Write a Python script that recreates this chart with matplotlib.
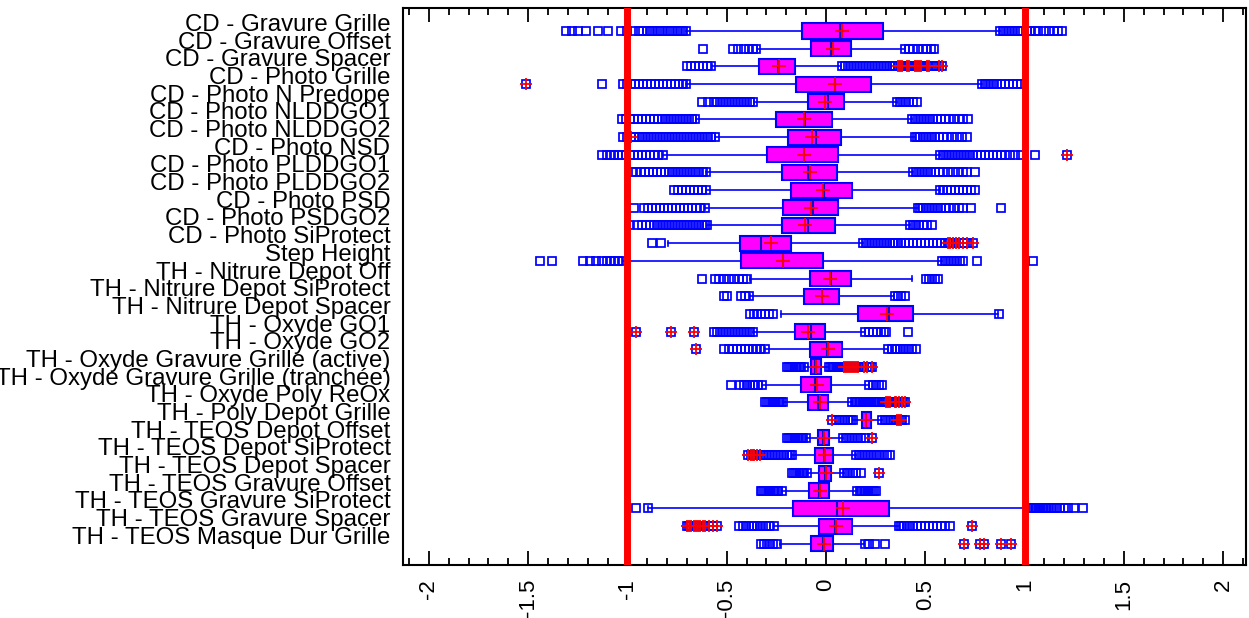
import matplotlib
matplotlib.use("Agg")
import matplotlib.pyplot as plt
import numpy as np
from matplotlib.ticker import MultipleLocator, FixedLocator

plt.rcParams['font.family'] = ['Liberation Sans', 'DejaVu Sans']

categories = [
    "CD - Gravure Grille", "CD - Gravure Offset", "CD - Gravure Spacer",
    "CD - Photo Grille", "CD - Photo N Predope", "CD - Photo NLDDGO1",
    "CD - Photo NLDDGO2", "CD - Photo NSD", "CD - Photo PLDDGO1",
    "CD - Photo PLDDGO2", "CD - Photo PSD", "CD - Photo PSDGO2",
    "CD - Photo SiProtect", "Step Height", "TH - Nitrure Depot Off",
    "TH - Nitrure Depot SiProtect", "TH - Nitrure Depot Spacer",
    "TH - Oxyde GO1", "TH - Oxyde GO2", "TH - Oxyde Gravure Grille (active)",
    "TH - Oxyde Gravure Grille (tranchée)", "TH - Oxyde Poly ReOx",
    "TH - Poly Depot Grille", "TH - TEOS Depot Offset",
    "TH - TEOS Depot SiProtect", "TH - TEOS Depot Spacer",
    "TH - TEOS Gravure Offset", "TH - TEOS Gravure SiProtect",
    "TH - TEOS Gravure Spacer", "TH - TEOS Masque Dur Grille",
]

q1 = [-0.12, -0.073, -0.338, -0.151, -0.093, -0.253, -0.189, -0.296, -0.222, -0.174,
      -0.215, -0.222, -0.435, -0.427, -0.083, -0.112, 0.162, -0.157, -0.079, -0.073,
      -0.126, -0.093, 0.182, -0.041, -0.054, -0.035, -0.087, -0.166, -0.035, -0.073]
median = [0.073, 0.023, -0.244, 0.046, 0.008, -0.106, -0.048, -0.112, -0.093, -0.01,
          -0.064, -0.093, -0.325, -0.215, 0.023, -0.021, 0.317, -0.073, 0.004, -0.054,
          -0.054, -0.041, 0.203, -0.015, -0.012, -0.006, -0.035, 0.056, 0.043, -0.015]
q3 = [0.288, 0.126, -0.157, 0.226, 0.093, 0.029, 0.075, 0.062, 0.056, 0.133,
      0.062, 0.043, -0.176, -0.015, 0.124, 0.068, 0.439, -0.006, 0.081, -0.025,
      0.023, 0.01, 0.226, 0.015, 0.037, 0.023, 0.015, 0.317, 0.133, 0.037]
mean = [0.081, 0.033, -0.238, 0.043, -0.004, -0.112, -0.068, -0.112, -0.083, -0.015,
        -0.077, -0.106, -0.276, -0.218, 0.019, -0.019, 0.307, -0.093, 0.008, -0.05,
        -0.044, -0.031, 0.203, -0.01, -0.006, -0.002, -0.031, 0.087, 0.052, -0.012]
whisker_low = [-0.705, -0.348, -0.576, -0.705, -0.36, -0.657, -0.56, -0.823, -0.605, -0.605,
               -0.61, -0.60, -0.798, -1.02, -0.383, -0.383, -0.228, -0.367, -0.309, -0.112,
               -0.321, -0.215, 0.135, -0.102, -0.17, -0.097, -0.224, -0.895, -0.263, -0.234]
whisker_high = [0.874, 0.40, 0.077, 0.787, 0.36, 0.433, 0.448, 0.574, 0.439, 0.574,
                0.462, 0.425, 0.187, 0.584, 0.433, 0.342, 0.864, 0.197, 0.313, 0.015,
                0.216, 0.133, 0.28, 0.087, 0.153, 0.091, 0.158, 1.019, 0.367, 0.191]

outliers = [
    [-1.31, -1.28, -1.25, -1.21, -1.15, -1.10, -1.03, -1.00, -0.97, -0.94, -0.92, -0.90,
     -0.885, -0.87, -0.85, -0.835, -0.82, -0.80, -0.785, -0.77, -0.75, -0.735, -0.72, -0.705,
     0.875, 0.89, 0.905, 0.92, 0.935, 0.95, 0.965, 0.98, 1.01, 1.03, 1.05, 1.07, 1.10,
     1.125, 1.15, 1.17, 1.19],
    [-0.62, -0.47, -0.445, -0.415, -0.39, -0.37, -0.35,
     0.40, 0.42, 0.44, 0.465, 0.49, 0.51, 0.53, 0.545],
    [-0.70, -0.68, -0.66, -0.64, -0.62, -0.60, -0.58,
     0.08, 0.095, 0.11, 0.125, 0.14, 0.155, 0.17, 0.185, 0.20, 0.215, 0.23, 0.245, 0.26,
     0.275, 0.29, 0.305, 0.32, 0.335, 0.35, 0.365, 0.38, 0.40, 0.43, 0.44, 0.49, 0.50,
     0.54, 0.555],
    [-1.13, -1.02, -1.00, -0.98, -0.96, -0.94, -0.92, -0.90, -0.88, -0.86, -0.84, -0.82,
     -0.80, -0.78, -0.76, -0.74, -0.72, -0.705,
     0.787, 0.80, 0.815, 0.83, 0.845, 0.86, 0.88, 0.90, 0.92, 0.94, 0.96, 0.98],
    [-0.624, -0.595, -0.566, -0.55, -0.535, -0.52, -0.505, -0.49, -0.475, -0.46, -0.445,
     -0.43, -0.415, -0.40, -0.385, -0.37,
     0.36, 0.375, 0.39, 0.405, 0.42, 0.44, 0.458],
    [-1.025, -1.005, -0.985, -0.965, -0.945, -0.925, -0.905, -0.885, -0.865, -0.845,
     -0.825, -0.81, -0.795, -0.78, -0.765, -0.75, -0.735, -0.72, -0.705, -0.69, -0.675, -0.66,
     0.433, 0.45, 0.465, 0.48, 0.495, 0.51, 0.525, 0.54, 0.56, 0.58, 0.60, 0.62, 0.645,
     0.67, 0.69, 0.715],
    [-1.02, -1.00, -0.96, -0.94, -0.925, -0.91, -0.895, -0.88, -0.865, -0.85, -0.835,
     -0.82, -0.805, -0.79, -0.775, -0.76, -0.745, -0.73, -0.715, -0.70, -0.685, -0.67,
     -0.655, -0.64, -0.625, -0.61, -0.595, -0.58, -0.56,
     0.448, 0.46, 0.475, 0.49, 0.505, 0.52, 0.535, 0.55, 0.57, 0.59, 0.61, 0.635, 0.66,
     0.685, 0.709],
    [-1.127, -1.105, -1.085, -1.065, -1.045, -1.025, -1.005, -0.985, -0.965, -0.945,
     -0.925, -0.905, -0.885, -0.865, -0.845, -0.823,
     0.574, 0.59, 0.605, 0.62, 0.635, 0.65, 0.665, 0.68, 0.695, 0.71, 0.725, 0.74, 0.76,
     0.78, 0.80, 0.82, 0.84, 0.86, 0.88, 0.90, 0.925, 0.95, 0.98, 1.053],
    [-0.978, -0.955, -0.93, -0.91, -0.89, -0.87, -0.85, -0.83, -0.81, -0.79, -0.775,
     -0.76, -0.745, -0.73, -0.715, -0.70, -0.685, -0.67, -0.655, -0.64, -0.62, -0.605,
     0.439, 0.455, 0.47, 0.485, 0.50, 0.515, 0.53, 0.55, 0.57, 0.59, 0.615, 0.64, 0.665,
     0.69, 0.709, 0.752],
    [-0.765, -0.745, -0.725, -0.705, -0.685, -0.665, -0.645, -0.625, -0.605,
     0.574, 0.59, 0.61, 0.63, 0.65, 0.67, 0.69, 0.71, 0.73, 0.748],
    [-0.968, -0.914, -0.895, -0.875, -0.855, -0.835, -0.815, -0.795, -0.775, -0.755,
     -0.735, -0.715, -0.695, -0.675, -0.655, -0.635, -0.61,
     0.462, 0.475, 0.49, 0.505, 0.52, 0.535, 0.55, 0.565, 0.58, 0.60, 0.62, 0.645, 0.67,
     0.69, 0.729, 0.883],
    [-0.99, -0.947, -0.925, -0.905, -0.885, -0.865, -0.85, -0.835, -0.82, -0.805, -0.79,
     -0.775, -0.76, -0.745, -0.73, -0.715, -0.70, -0.685, -0.67, -0.655, -0.64, -0.625,
     -0.61, -0.60,
     0.425, 0.44, 0.455, 0.47, 0.49, 0.51, 0.535],
    [-0.875, -0.83,
     0.187, 0.20, 0.215, 0.23, 0.245, 0.26, 0.275, 0.29, 0.305, 0.32, 0.335, 0.35, 0.365,
     0.38, 0.40, 0.42, 0.44, 0.46, 0.48, 0.50, 0.52, 0.54, 0.56, 0.58, 0.60],
    [-1.442, -1.382, -1.223, -1.19, -1.16, -1.13, -1.105, -1.085, -1.065, -1.045, -1.02,
     0.584, 0.60, 0.615, 0.63, 0.645, 0.66, 0.675, 0.69, 0.758, 1.042],
    [-0.624, -0.56, -0.54, -0.515, -0.49, -0.465, -0.44, -0.42, -0.40,
     0.506, 0.52, 0.535, 0.55, 0.564],
    [-0.516, -0.497, -0.43, -0.41, -0.39,
     0.35, 0.365, 0.38, 0.40],
    [-0.383, -0.365, -0.345, -0.325, -0.305, -0.285, -0.265,
     0.87],
    [-0.566, -0.55, -0.535, -0.52, -0.505, -0.49, -0.475, -0.46, -0.445, -0.43, -0.415,
     -0.40, -0.385, -0.367,
     0.197, 0.215, 0.235, 0.255, 0.275, 0.29, 0.303, 0.414],
    [-0.514, -0.49, -0.47, -0.45, -0.43, -0.41, -0.39, -0.37, -0.35, -0.33, -0.309,
     0.313, 0.33, 0.345, 0.36, 0.375, 0.39, 0.405, 0.42, 0.435, 0.452],
    [-0.195, -0.185, -0.175, -0.165, -0.155, -0.145, -0.135, -0.125, -0.112,
     0.015, 0.025, 0.035, 0.045, 0.055, 0.065, 0.075, 0.085, 0.18, 0.22],
    [-0.479, -0.431, -0.415, -0.40, -0.385, -0.37, -0.355, -0.34, -0.321,
     0.216, 0.235, 0.25, 0.265, 0.28],
    [-0.305, -0.295, -0.285, -0.275, -0.265, -0.255, -0.245, -0.235, -0.225, -0.215,
     0.133, 0.145, 0.155, 0.165, 0.175, 0.185, 0.195, 0.205, 0.215, 0.225, 0.235, 0.245,
     0.255, 0.265, 0.28, 0.294, 0.335, 0.36, 0.39],
    [0.052, 0.065, 0.08, 0.095, 0.11, 0.125, 0.135,
     0.28, 0.295, 0.31, 0.325, 0.34, 0.355, 0.385, 0.40],
    [-0.195, -0.185, -0.175, -0.165, -0.155, -0.145, -0.135, -0.125, -0.115, -0.102,
     0.087, 0.10, 0.115, 0.13, 0.145, 0.16, 0.175, 0.197],
    [-0.315, -0.30, -0.285, -0.27, -0.255, -0.24, -0.225, -0.21, -0.195, -0.18, -0.17,
     0.153, 0.165, 0.18, 0.195, 0.21, 0.225, 0.24, 0.255, 0.27, 0.29, 0.305, 0.323],
    [-0.17, -0.16, -0.15, -0.14, -0.13, -0.12, -0.11, -0.097,
     0.091, 0.105, 0.12, 0.135, 0.15, 0.174],
    [-0.329, -0.32, -0.31, -0.30, -0.29, -0.28, -0.27, -0.26, -0.25, -0.24, -0.224,
     0.158, 0.17, 0.18, 0.19, 0.20, 0.21, 0.22, 0.23, 0.24, 0.251],
    [-0.959, -0.895,
     1.019, 1.03, 1.04, 1.05, 1.06, 1.07, 1.08, 1.09, 1.10, 1.11, 1.12, 1.135, 1.15,
     1.165, 1.18, 1.20, 1.22, 1.25, 1.293],
    [-0.437, -0.42, -0.405, -0.39, -0.375, -0.36, -0.345, -0.33, -0.315, -0.30, -0.285,
     -0.263,
     0.367, 0.38, 0.395, 0.41, 0.425, 0.44, 0.46, 0.48, 0.50, 0.52, 0.54, 0.56, 0.58,
     0.60, 0.622],
    [-0.325, -0.31, -0.295, -0.28, -0.265, -0.247,
     0.195, 0.215, 0.245, 0.295],
]

extremes = [
    [], [],
    [0.365, 0.375, 0.385, 0.41, 0.42, 0.45, 0.46, 0.47, 0.48, 0.51, 0.52, 0.57, 0.585],
    [-1.51], [], [], [-0.98], [1.216], [], [], [], [],
    [0.613, 0.625, 0.64, 0.655, 0.67, 0.69, 0.71, 0.738],
    [], [], [], [],
    [-0.959, -0.779, -0.663],
    [-0.653],
    [0.09, 0.10, 0.11, 0.12, 0.13, 0.14, 0.15, 0.16, 0.19, 0.205, 0.23],
    [],
    [0.30, 0.31, 0.32, 0.345, 0.355, 0.37, 0.385, 0.40],
    [0.029, 0.36, 0.37, 0.38],
    [0.232],
    [-0.392, -0.38, -0.37, -0.36, -0.345, -0.33],
    [0.265], [], [],
    [-0.70, -0.69, -0.68, -0.665, -0.655, -0.645, -0.635, -0.62, -0.61, -0.59, -0.57,
     -0.547, 0.734],
    [0.694, 0.777, 0.797, 0.879, 0.932],
]

limit_lines = [-1, 1]
xtick_values = [-2, -1.5, -1, -0.5, 0, 0.5, 1, 1.5, 2]
xtick_labels = ["-2", "-1.5", "-1", "-0.5", "0", "0.5", "1", "1.5", "2"]

BLUE = "#0000FF"
MAG = "#FF00FF"
RED = "#FF0000"

fig = plt.figure(figsize=(12.49, 6.18), dpi=100)
ax = fig.add_axes([403 / 1249, 53 / 618, (1246 - 403) / 1249, (565 - 8) / 618])

positions = np.arange(len(categories))
stats = []
for i in range(len(categories)):
    stats.append(dict(med=median[i], q1=q1[i], q3=q3[i], whislo=whisker_low[i],
                      whishi=whisker_high[i], mean=mean[i], fliers=outliers[i] + extremes[i]))

ax.bxp(stats, positions=positions, orientation='horizontal', widths=0.85,
       capwidths=0.3, patch_artist=True, showmeans=True, showfliers=True,
       boxprops=dict(facecolor=MAG, edgecolor=BLUE, linewidth=1.5),
       medianprops=dict(color="#1010C0", linewidth=1.5),
       whiskerprops=dict(color=BLUE, linewidth=1.2),
       capprops=dict(color=BLUE, linewidth=1.2),
       meanprops=dict(marker='+', markeredgecolor=RED, markersize=10, markeredgewidth=1.3),
       flierprops=dict(marker='s', markerfacecolor='none', markeredgecolor=BLUE,
                       markersize=6.3, markeredgewidth=1.25, linestyle='none'))

for i, ex in enumerate(extremes):
    if ex:
        ax.plot(ex, [i] * len(ex), linestyle='none', marker='+', markeredgecolor=RED,
                markersize=8, markeredgewidth=1.3, zorder=4)

for xv in limit_lines:
    ax.axvline(xv, color=RED, linewidth=5, zorder=6)

ax.set_xlim(-2.13, 2.115)
ax.set_ylim(30.2, -1.3)

ax.set_yticks(positions)
ax.set_yticklabels(categories, fontsize=17.3)
for lbl in ax.get_yticklabels():
    lbl.set_verticalalignment('baseline')
ax.tick_params(axis='y', length=0, pad=9)

ax.xaxis.set_major_locator(FixedLocator(xtick_values))
ax.set_xticklabels(xtick_labels, rotation=90, fontsize=16)
ax.xaxis.set_minor_locator(MultipleLocator(0.1))
ax.tick_params(axis='x', which='both', direction='in', top=True, bottom=True, width=1.3)
ax.tick_params(axis='x', which='major', length=10, pad=10)
ax.tick_params(axis='x', which='minor', length=5)

for sp in ax.spines.values():
    sp.set_linewidth(1.5)
    sp.set_color('black')

fig.savefig("out.png", dpi=100)
